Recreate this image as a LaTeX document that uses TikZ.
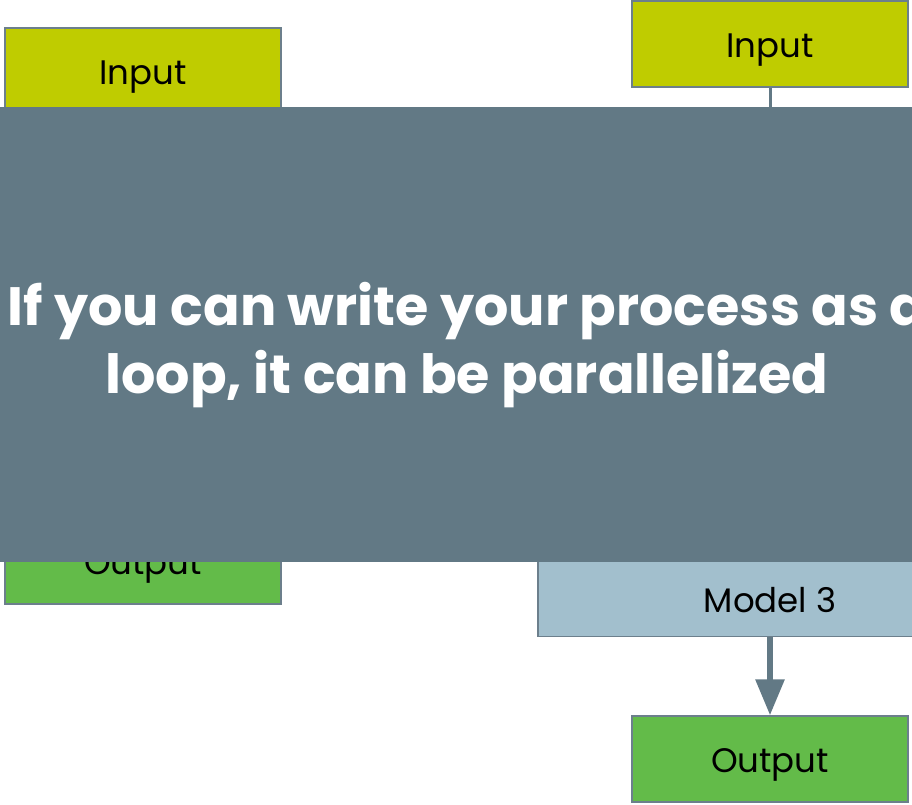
\documentclass[tikz,border=0pt]{standalone}
\usepackage{fontspec}
\setmainfont{Poppins}
\usetikzlibrary{arrows.meta}
\definecolor{inputfill}{HTML}{BFCC00}
\definecolor{outputfill}{HTML}{63BB49}
\definecolor{modelfill}{HTML}{A2BFCD}
\definecolor{edgegrey}{HTML}{6C7F8C}
\definecolor{slate}{HTML}{627985}
\tikzset{
  boxtext/.style={font=\fontsize{34}{38}\selectfont, text=black, text height=27pt, text depth=0pt},
  box/.style={boxtext, draw=edgegrey, line width=1.4pt, minimum height=86pt, inner sep=0pt},
  inbox/.style={box, fill=inputfill, minimum width=276pt},
  outbox/.style={box, fill=outputfill, minimum width=276pt},
  modelbox/.style={box, fill=modelfill, minimum width=464pt, minimum height=117pt},
  flow/.style={draw=slate, line width=6pt, -{Triangle[length=36pt,width=28pt]}},
  link/.style={draw=slate, line width=3pt},
  banner/.style={fill=slate, draw=none},
  bannertext/.style={text=white, align=center, font=\bfseries\fontsize{54}{68}\selectfont}
}
\begin{document}
\begin{tikzpicture}[x=1pt, y=-1pt]
  \useasboundingbox (0,0) rectangle (912,805);
  \clip (0,0) rectangle (912,805);
  % left column
  \node[inbox] (inL) at (143,71) {Input};
  \node[outbox] (outL) at (143,561) {Output};
  % right column
  \node[inbox] (inR) at (770,44) {Input};
  \coordinate (inRlow) at (770,120);
  \draw[link] (inR.south) -- (inRlow);
  \node[modelbox, anchor=south] (m3) at (770,637) {};
  \node[boxtext, inner sep=0pt] (m3t) at (770,599) {Model 3};
  \node[outbox] (outR) at (770,759) {Output};
  \draw[flow] (m3.south) -- (outR.north);
  % overlay banner
  \fill[banner] (0,107) rectangle (930,562);
  \node[bannertext] (msg) at (467,345) {If you can write your process as a\\loop, it can be parallelized};
\end{tikzpicture}
\end{document}
